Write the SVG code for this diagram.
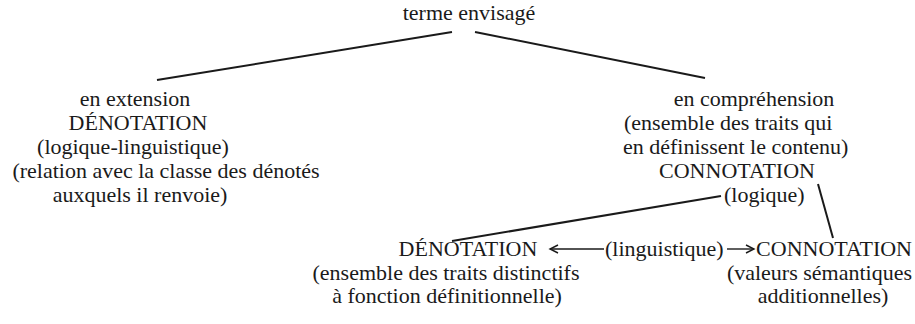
<svg xmlns="http://www.w3.org/2000/svg" width="915" height="324" viewBox="0 0 915 324">
<defs>
<style>
text{font-family:"Liberation Serif","Times New Roman",serif;font-size:22px;fill:#1a1a1a}
.m{text-anchor:middle}
.e{text-anchor:end}
.ln{stroke:#1a1a1a;stroke-width:2;fill:none}
.ar{stroke:#1a1a1a;stroke-width:1.4;fill:none}
</style>
<marker id="ah" markerWidth="12" markerHeight="12" refX="9" refY="5" orient="auto" markerUnits="userSpaceOnUse">
<path d="M1,1 L9,5 L1,9" stroke="#1a1a1a" stroke-width="1.4" fill="none"/>
</marker>
</defs>
<rect width="915" height="324" fill="#ffffff"/>
<g id="root"><text class="m" x="469" y="20">terme envisagé</text></g>
<g id="extension">
<text class="m" x="135" y="106">en extension</text>
<text class="m" x="138" y="130">DÉNOTATION</text>
<text class="m" x="133" y="154">(logique-linguistique)</text>
<text class="m" x="166" y="178">(relation avec la classe des dénotés</text>
<text class="m" x="140" y="202">auxquels il renvoie)</text>
</g>
<g id="comprehension">
<text class="m" x="754" y="106">en compréhension</text>
<text x="624" y="130">(ensemble des traits qui</text>
<text x="623" y="154">en définissent le contenu)</text>
<text class="m" x="737" y="178">CONNOTATION</text>
<text x="724" y="202">(logique)</text>
</g>
<g id="denotation2">
<text class="m" x="468" y="256">DÉNOTATION</text>
<text class="m" x="446" y="280">(ensemble des traits distinctifs</text>
<text class="m" x="447" y="303">à fonction définitionnelle)</text>
</g>
<g id="linguistique"><text x="605" y="256">(linguistique)</text></g>
<g id="connotation2">
<text class="e" x="912" y="256">CONNOTATION</text>
<text class="e" x="912" y="280">(valeurs sémantiques</text>
<text class="m" x="823" y="303">additionnelles)</text>
</g>
<g id="connectors">
<line class="ln" x1="452" y1="32" x2="157" y2="80"/>
<line class="ln" x1="475" y1="32" x2="705" y2="78"/>
<line class="ln" x1="721" y1="196" x2="452" y2="241"/>
<line class="ln" x1="818" y1="184" x2="833" y2="238"/>
<line class="ar" x1="604" y1="249" x2="550" y2="249" marker-end="url(#ah)"/>
<line class="ar" x1="727" y1="249" x2="754" y2="249" marker-end="url(#ah)"/>
</g>
</svg>
